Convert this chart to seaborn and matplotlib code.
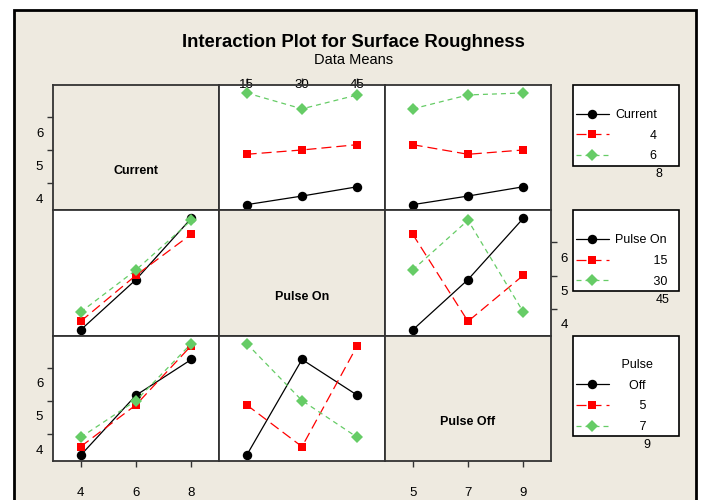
import matplotlib
matplotlib.use("Agg")
import matplotlib.pyplot as plt
import matplotlib.transforms as mtransforms
from matplotlib.patches import Rectangle
import pandas as pd
import seaborn as sns

# L9 runs
current = [4, 4, 4, 6, 6, 6, 8, 8, 8]
pulse_on = [15, 30, 45, 15, 30, 45, 15, 30, 45]
pulse_off = [5, 7, 9, 7, 9, 5, 9, 5, 7]
roughness = [3.36, 3.62, 3.90, 4.88, 5.01, 5.17, 6.73, 6.25, 6.67]

factors = ["Current", "Pulse On", "Pulse Off"]
levels = {"Current": [4, 6, 8], "Pulse On": [15, 30, 45], "Pulse Off": [5, 7, 9]}
y_ticks = [4, 5, 6]
legend_titles = [" ", " ", " \n" + " " * 13 + "Pulse"]
legend_heads = ["Current", "Pulse On", "    Off"]
label_pads = [10, 11, 7]

df = pd.DataFrame({"Current": current, "Pulse On": pulse_on,
                   "Pulse Off": pulse_off, "Ra": roughness})

sns.set_style("white")
plt.rcParams["font.family"] = ["Liberation Sans", "DejaVu Sans"]
plt.rcParams["text.color"] = "black"
plt.rcParams["xtick.color"] = "black"
plt.rcParams["ytick.color"] = "black"

bg = "#EEEAE0"
edge = "#333333"
colors = ["black", "#FF0000", "#66CC66"]
marks = ["o", "s", "D"]
dash_styles = ["", (8, 4), (4, 3.2)]
mark_sizes = {"o": 6.8, "s": 5.5, "D": 6.5}

W, H = 701, 500
fig = plt.figure(figsize=(W / 100, H / 100), dpi=100, facecolor="white")
fig.patches.append(Rectangle((14 / W, -0.1), 682 / W, 1.1 - 10 / H,
                             transform=fig.transFigure, facecolor=bg,
                             edgecolor="black", linewidth=2, zorder=-5))

fig.text(353 / W, 1 - 47 / H, "Interaction Plot for Surface Roughness",
         ha="center", va="baseline", fontsize=13.3, fontweight="bold")
fig.text(354 / W, 1 - 64 / H, "Data Means", ha="center", va="baseline", fontsize=10.5)

gx0, gy0, cw, rh = 53, 85, 166, 125.3
ylim = (3.19, 6.97)


def px_offset(dx, dy):
    return mtransforms.ScaledTranslation(dx / 100, dy / 100, fig.dpi_scale_trans)


row_axes = {}
for i, row_f in enumerate(factors):
    for j, col_f in enumerate(factors):
        ax = fig.add_axes([(gx0 + j * cw) / W, 1 - (gy0 + (i + 1) * rh) / H, cw / W, rh / H])
        lv = levels[col_f]
        step = lv[1] - lv[0]
        if i == j:
            ax.set_facecolor(bg)
            ax.text(0.5, 0.31, row_f, transform=ax.transAxes, ha="center", va="center",
                    fontsize=9, fontweight="bold")
        else:
            ax.set_facecolor("white")
            rl = levels[row_f]
            sns.lineplot(data=df, x=col_f, y="Ra", hue=row_f, style=row_f,
                         palette=dict(zip(rl, colors)), markers=dict(zip(rl, marks)),
                         dashes=dict(zip(rl, dash_styles)), errorbar=None, legend=False,
                         linewidth=0.9, markeredgewidth=0, ax=ax)
            for ln in ax.get_lines():
                ln.set_markersize(mark_sizes[ln.get_marker()])
            row_axes.setdefault(i, ax)
        ax.set_xlim(lv[0] - step / 2, lv[-1] + step / 2)
        ax.set_ylim(*ylim)
        ax.set_xlabel("")
        ax.set_ylabel("")
        ax.set_xticks([])
        ax.set_yticks([])
        for sp in ax.spines.values():
            sp.set_color(edge)
            sp.set_linewidth(1.3)

        # x ticks: col 1 on top of row 0, cols 0 and 2 below row 2
        if (i == 0 and j == 1) or (i == 2 and j in (0, 2)):
            ax.set_xticks(lv, [str(v) for v in lv])
            if i == 0:
                ax.xaxis.tick_top()
                ax.tick_params(axis="x", top=True, labeltop=True, bottom=False,
                               labelbottom=False, length=5, width=1, pad=-9.5,
                               labelsize=9.5, color=edge, direction="out")
            else:
                ax.tick_params(axis="x", bottom=True, length=4, width=1, pad=15,
                               labelsize=9.5, color=edge, direction="out")
        # y ticks: left for rows 0 and 2, right for row 1
        if (j == 0 and i in (0, 2)) or (i == 1 and j == 2):
            ax.set_yticks(y_ticks, [str(v) for v in y_ticks])
            if j == 2:
                ax.yaxis.tick_right()
                ax.tick_params(axis="y", right=True, labelright=True, left=False,
                               labelleft=False, length=4, width=1, pad=3,
                               labelsize=9.5, color=edge, direction="out")
            else:
                ax.tick_params(axis="y", left=True, length=4, width=1, pad=3,
                               labelsize=9.5, color=edge, direction="out")
            for lab in ax.get_yticklabels():
                lab.set_transform(lab.get_transform() + px_offset(0, -15))

# legends, Minitab style: last level spills below the box
for i, row_f in enumerate(factors):
    lv = levels[row_f]
    handles = row_axes[i].get_lines()[:3]
    labels = [legend_heads[i]] + [" " * label_pads[i] + str(v) for v in lv[:2]]
    top = gy0 + i * rh
    leg = fig.legend(handles, labels, loc="upper left",
                     bbox_to_anchor=(573 / W, 1 - top / H, 106 / W, 0),
                     mode="expand", borderaxespad=0, fontsize=9, title=legend_titles[i],
                     title_fontsize=9, handlelength=2.6, handletextpad=0.5,
                     labelspacing=0.7, borderpad=0.25, fancybox=False, framealpha=1,
                     facecolor="white", edgecolor="black", alignment="left")
    leg.get_title().set_linespacing(1.9)
    leg.get_frame().set_linewidth(1.2)
    last_x = [662, 670, 650][i]
    last_y = [174, 300, 445][i]
    fig.text(last_x / W, 1 - last_y / H, str(lv[2]), ha="right", va="center", fontsize=9)

fig.savefig("out.png", dpi=100, facecolor=fig.get_facecolor())
